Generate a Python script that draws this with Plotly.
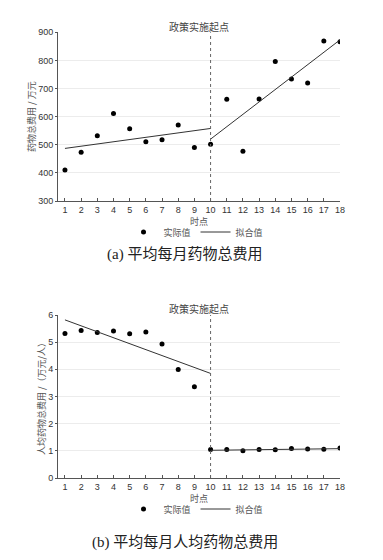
import plotly.graph_objects as go

time_points = list(range(1, 19))
x_ticks = list(range(1, 19))

# (a) average monthly total drug cost (10k yuan)
cost_actual = [410, 473, 532, 611, 557, 511, 518, 570, 490,
               502, 662, 477, 663, 796, 734, 720, 869, 866]
cost_fit_x = [1, 10, None, 10, 18]
cost_fit_y = [487, 558, None, 520, 873]

# (b) average monthly per-capita total drug cost (10k yuan / person)
pc_actual = [5.32, 5.43, 5.36, 5.41, 5.31, 5.37, 4.93, 3.99, 3.36,
             1.05, 1.05, 1.00, 1.05, 1.04, 1.09, 1.07, 1.06, 1.10]
pc_fit_x = [1, 10, None, 10, 18]
pc_fit_y = [5.82, 3.85, None, 1.02, 1.08]

policy_point = 10
W, H = 383, 560
OFF = 8  # page body margin

cjk = "Noto Sans CJK SC"
sans = "Liberation Sans, Arial, " + cjk
serif = "Liberation Serif, " + cjk

def px_x(p):
    return (p - OFF) / W

def px_y(p):
    return 1 - (p - OFF) / H

fig = go.Figure()

fig.add_trace(go.Scatter(x=time_points, y=cost_actual, mode="markers",
                         marker=dict(color="black", size=5),
                         name="实际值", xaxis="x", yaxis="y", legend="legend"))
fig.add_trace(go.Scatter(x=cost_fit_x, y=cost_fit_y, mode="lines",
                         line=dict(color="#333333", width=1),
                         name="拟合值", xaxis="x", yaxis="y", legend="legend"))
fig.add_trace(go.Scatter(x=time_points, y=pc_actual, mode="markers",
                         marker=dict(color="black", size=5),
                         name="实际值", xaxis="x2", yaxis="y2", legend="legend2"))
fig.add_trace(go.Scatter(x=pc_fit_x, y=pc_fit_y, mode="lines",
                         line=dict(color="#333333", width=1),
                         name="拟合值", xaxis="x2", yaxis="y2", legend="legend2"))

xdom = [px_x(58), px_x(340)]
common_x = dict(range=[0.57, 18], tickmode="array", tickvals=x_ticks,
                ticks="inside", ticklen=3, tickcolor="#555", showline=True,
                linecolor="#555", linewidth=1, showgrid=False, zeroline=False,
                automargin=False,
                tickfont=dict(family=sans, size=9, color="#333"),
                title=dict(text="时点", font=dict(family=cjk, size=9, color="#555"),
                           standoff=0))
common_y = dict(ticks="outside", ticklen=2, tickcolor="#555", showline=True,
                linecolor="#555", linewidth=1, showgrid=True, gridcolor="#ececec",
                zeroline=False, automargin=False,
                tickfont=dict(family=sans, size=9, color="#333"))

fig.update_layout(
    width=W, height=H, autosize=False,
    margin=dict(l=0, r=0, t=0, b=0),
    paper_bgcolor="white", plot_bgcolor="white",
    xaxis=dict(domain=xdom, anchor="y", **common_x),
    yaxis=dict(domain=[px_y(201), px_y(32.3)], anchor="x", range=[300, 900],
               dtick=100,
               title=dict(text="药物总费用 / 万元",
                          font=dict(family=cjk, size=9, color="#555"), standoff=0),
               **common_y),
    xaxis2=dict(domain=xdom, anchor="y2", **common_x),
    yaxis2=dict(domain=[px_y(478), px_y(315)], anchor="x2", range=[0, 6],
                dtick=1,
                title=dict(text="人均药物总费用 /（万元/人）",
                           font=dict(family=cjk, size=9, color="#555"), standoff=0),
                **common_y),
    legend=dict(orientation="h", x=px_x(196), xanchor="center", y=px_y(232),
                yanchor="middle", font=dict(family=cjk, size=9, color="#555"),
                itemwidth=30, bgcolor="rgba(0,0,0,0)"),
    legend2=dict(orientation="h", x=px_x(196), xanchor="center", y=px_y(509),
                 yanchor="middle", font=dict(family=cjk, size=9, color="#555"),
                 itemwidth=30, bgcolor="rgba(0,0,0,0)"),
    showlegend=True,
)

for xr, yr in (("x", "y domain"), ("x2", "y2 domain")):
    fig.add_shape(type="line", xref=xr, yref=yr, x0=policy_point, x1=policy_point,
                  y0=0, y1=1, line=dict(color="#666", width=1, dash="dot"))

for ytop in (26, 308):
    fig.add_annotation(text="政策实施起点", xref="paper", yref="paper",
                       x=(xdom[0] + xdom[1]) / 2, y=px_y(ytop), showarrow=False,
                       xanchor="center", yanchor="middle",
                       font=dict(family=cjk, size=10, color="#444"))

fig.add_annotation(text="(a) 平均每月药物总费用", xref="paper", yref="paper",
                   x=px_x(184), y=px_y(254), showarrow=False, xanchor="center",
                   yanchor="middle", font=dict(family=serif, size=15, color="#222"))
fig.add_annotation(text="(b) 平均每月人均药物总费用", xref="paper", yref="paper",
                   x=px_x(185), y=px_y(542), showarrow=False, xanchor="center",
                   yanchor="middle", font=dict(family=serif, size=15, color="#222"))

fig.write_html("out.html")
